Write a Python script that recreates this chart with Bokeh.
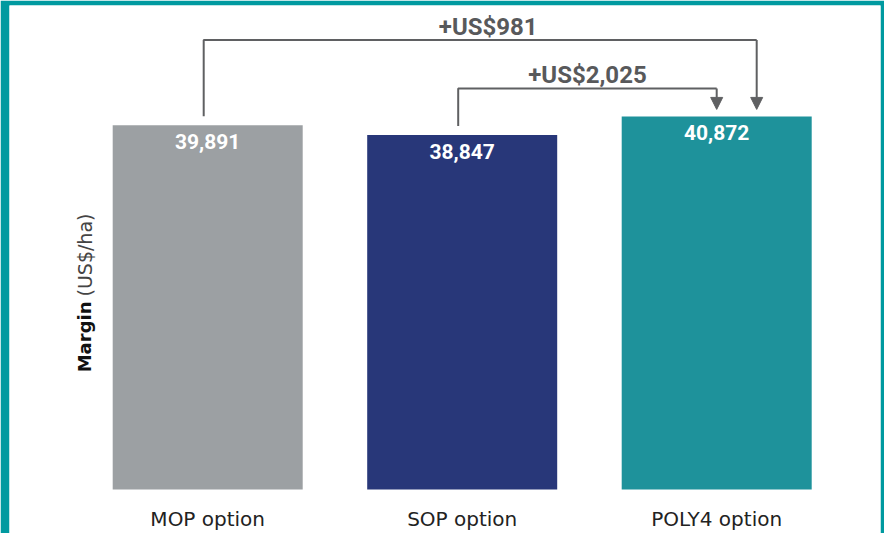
import math
from bokeh.plotting import figure
from bokeh.models import Range1d, Arrow, NormalHead, ColumnDataSource
from bokeh.core.properties import value
from bokeh.embed import file_html
from bokeh.resources import INLINE

# ---- data ----
categories = ["MOP option", "SOP option", "POLY4 option"]
margins = [39891, 38847, 40872]
value_labels = ["39,891", "38,847", "40,872"]
diff_labels = ["+US$981", "+US$2,025"]
bar_colors = ["#9ca0a3", "#283779", "#1e929b"]
y_label_bold = "Margin"
y_label_unit = "(US$/ha)"

# ---- layout (picture pixels) ----
W, H = 884, 533
X_PX = 254.5      # pixels per category step
X0 = 207.2        # x of first category centre
Y_UPX = 109.55    # data units per pixel
Y0 = 489.0        # y of zero
FL, FR, FT, FB = 9, 880, 5, 533   # frame edges

def dx(px):
    return px / X_PX

def dy(px):
    return px * Y_UPX

def page_x(px):
    return (px - X0) / X_PX

def page_y(py):
    return (Y0 - py) * Y_UPX

xs = list(range(len(categories)))

p = figure(width=W, height=H, output_backend="svg", toolbar_location=None,
           x_axis_location=None, y_axis_location=None,
           x_range=Range1d(page_x(FL), page_x(FR)),
           y_range=Range1d(page_y(FB), page_y(FT)),
           min_border_left=FL, min_border_right=W - FR, min_border_top=FT,
           min_border_bottom=H - FB)
p.border_fill_color = "#009aa0"
p.background_fill_color = "white"
p.outline_line_color = None
p.xgrid.visible = False
p.ygrid.visible = False

src = ColumnDataSource(dict(x=xs, top=margins, color=bar_colors,
                            cat=categories, lab=value_labels))

p.vbar(x="x", top="top", bottom=0, width=dx(190), fill_color="color",
       line_color=None, source=src)

p.text(x="x", y="top", text="lab", source=src, text_align="center",
       text_baseline="top", y_offset=9, text_color="white",
       text_font=value("Roboto"), text_font_style="bold",
       text_font_size="21px")

p.text(x="x", y=0, text="cat", source=src, text_align="center",
       text_baseline="alphabetic", y_offset=29, text_color="#222222",
       text_font=value("DejaVu Sans"), text_font_size="20px")

# ---- brackets ----
gray = "#5f6062"
top_max = max(margins)
levels = [top_max + dy(76.5), top_max + dy(28)]
tip = margins[2] + dy(7)
starts = [(xs[0] - dx(4), margins[0] + dy(9)), (xs[1] - dx(4), margins[1] + dy(9))]
ends = [xs[2] + dx(40), xs[2]]
label_shift = [dx(8), 0]

for (x1, y1), x2, lev, lab, sh in zip(starts, ends, levels, diff_labels, label_shift):
    p.line(x=[x1, x1, x2], y=[y1, lev, lev], line_color=gray, line_width=2)
    p.add_layout(Arrow(x_start=x2, y_start=lev, x_end=x2, y_end=tip,
                       line_color=gray, line_width=2,
                       end=NormalHead(size=12, fill_color=gray, line_color=gray)))
    p.text(x=[(x1 + x2) / 2 + sh], y=[lev + dy(13)], text=[lab],
           text_align="center", text_baseline="alphabetic",
           text_color="#58595b", text_font=value("Roboto"),
           text_font_style="bold", text_font_size="24px")

# ---- y label ----
p.text(x=[page_x(84)], y=[page_y(301)], text=[y_label_bold], angle=math.pi / 2,
       text_align="right", text_baseline="middle", text_color="#111111",
       text_font=value("DejaVu Sans"), text_font_style="bold", text_font_size="18px")
p.text(x=[page_x(84)], y=[page_y(296)], text=[y_label_unit], angle=math.pi / 2,
       text_align="left", text_baseline="middle", text_color="#444444",
       text_font=value("DejaVu Sans"), text_font_size="19px")

open("out.html", "w").write(file_html(p, INLINE))
